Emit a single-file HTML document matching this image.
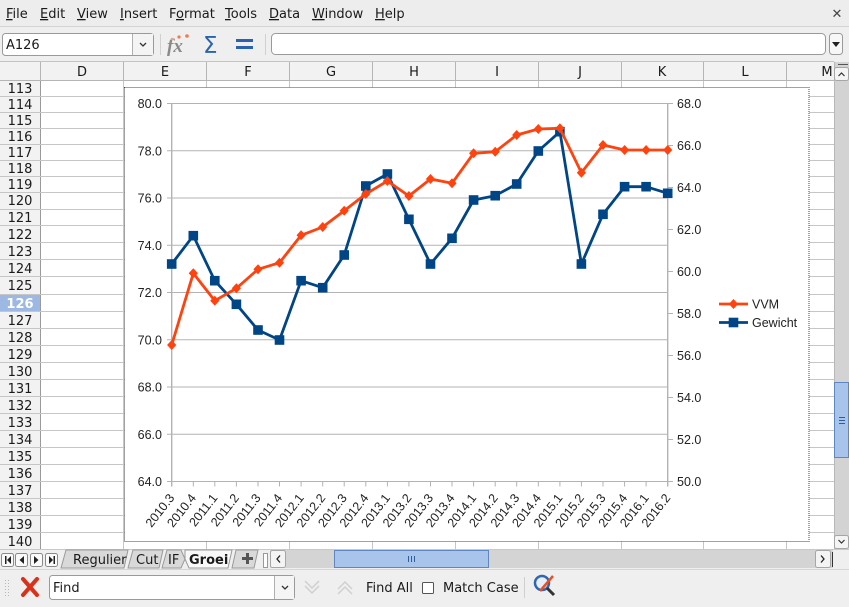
<!DOCTYPE html>
<html><head><meta charset="utf-8">
<style>
html,body{margin:0;padding:0;width:849px;height:607px;overflow:hidden;background:#efefef;}
svg{display:block;}
.ui{font-family:"DejaVu Sans","Liberation Sans",sans-serif;font-size:13px;fill:#1a1a1a;}
.ch{font-family:"Liberation Sans",sans-serif;font-size:12.5px;fill:#222;}
</style></head><body>
<svg width="849" height="607" viewBox="0 0 849 607" xmlns="http://www.w3.org/2000/svg">
<defs>
  <symbol id="dm" overflow="visible"><polygon points="0,-5 4.6,0 0,5 -4.6,0" fill="#ff420e"/></symbol>
  <symbol id="sq" overflow="visible"><rect x="-4.8" y="-4.8" width="9.6" height="9.6" fill="#004586"/></symbol>
</defs>

<!-- menu bar -->
<rect x="0" y="0" width="849" height="27" fill="#ededed"/>
<g class="ui">
  <text x="6" y="18"><tspan text-decoration="underline">F</tspan>ile</text>
  <text x="40" y="18"><tspan text-decoration="underline">E</tspan>dit</text>
  <text x="77" y="18"><tspan text-decoration="underline">V</tspan>iew</text>
  <text x="120" y="18"><tspan text-decoration="underline">I</tspan>nsert</text>
  <text x="169" y="18">F<tspan text-decoration="underline">o</tspan>rmat</text>
  <text x="225" y="18"><tspan text-decoration="underline">T</tspan>ools</text>
  <text x="269" y="18"><tspan text-decoration="underline">D</tspan>ata</text>
  <text x="312" y="18"><tspan text-decoration="underline">W</tspan>indow</text>
  <text x="375" y="18"><tspan text-decoration="underline">H</tspan>elp</text>
</g>
<text x="837" y="18" font-family="DejaVu Sans,sans-serif" font-size="13" font-weight="bold" fill="#444" text-anchor="middle">✕</text>
<line x1="0" y1="26.5" x2="849" y2="26.5" stroke="#d4d4d4"/>

<!-- toolbar -->
<rect x="0" y="27" width="849" height="34" fill="#efefef"/>
<rect x="2.5" y="33.5" width="151" height="22" rx="3" fill="#fff" stroke="#9a9a9a"/>
<rect x="133" y="34" width="20" height="21" fill="#f4f4f4"/>
<line x1="132.5" y1="34" x2="132.5" y2="55" stroke="#b0b0b0"/>
<text class="ui" x="6" y="49">A126</text>
<path d="M140,43 l3,3 l3,-3" fill="none" stroke="#333" stroke-width="1.3"/>
<line x1="160.5" y1="34" x2="160.5" y2="55" stroke="#d0d0d0"/>
<text x="167" y="52" font-family="Liberation Serif,serif" font-style="italic" font-weight="bold" font-size="19" fill="#8a8a8a">fx</text>
<circle cx="179" cy="37" r="1.6" fill="#f07a50"/><circle cx="187" cy="36" r="1.8" fill="#f07a50"/><circle cx="172" cy="39" r="1.2" fill="#f0a080"/>
<text x="203" y="53" font-family="DejaVu Sans,sans-serif" font-size="23" fill="#2a63ad">Σ</text>
<rect x="236" y="39" width="17" height="3" fill="#2a63ad"/>
<rect x="236" y="46" width="17" height="3" fill="#2a63ad"/>
<line x1="265.5" y1="34" x2="265.5" y2="55" stroke="#d0d0d0"/>
<rect x="271.5" y="33.5" width="554" height="21" rx="4" fill="#fff" stroke="#9a9a9a"/>
<rect x="829.5" y="33.5" width="13" height="21" rx="3" fill="#f7f7f7" stroke="#9a9a9a"/>
<polygon points="832,42 840,42 836,47" fill="#222"/>

<!-- column headers -->
<rect x="0" y="61.5" width="834" height="19" fill="#f2f2f2"/>
<line x1="0" y1="61.5" x2="834" y2="61.5" stroke="#c4c4c4"/>
<line x1="0" y1="80.5" x2="834" y2="80.5" stroke="#b5b5b5"/>
<g stroke="#b5b5b5">
  <line x1="40.5" y1="62" x2="40.5" y2="80"/><line x1="123.5" y1="62" x2="123.5" y2="80"/>
  <line x1="206.5" y1="62" x2="206.5" y2="80"/><line x1="289.5" y1="62" x2="289.5" y2="80"/>
  <line x1="372.5" y1="62" x2="372.5" y2="80"/><line x1="455.5" y1="62" x2="455.5" y2="80"/>
  <line x1="538.5" y1="62" x2="538.5" y2="80"/><line x1="621.5" y1="62" x2="621.5" y2="80"/>
  <line x1="703.5" y1="62" x2="703.5" y2="80"/><line x1="786.5" y1="62" x2="786.5" y2="80"/>
</g>
<g class="ui" text-anchor="middle">
  <text x="82" y="76">D</text><text x="165" y="76">E</text><text x="248" y="76">F</text>
  <text x="331" y="76">G</text><text x="414" y="76">H</text><text x="497" y="76">I</text>
  <text x="580" y="76">J</text><text x="662" y="76">K</text><text x="745" y="76">L</text>
  <text x="827" y="76">M</text>
</g>

<!-- cell area -->
<rect x="41" y="81" width="793" height="468" fill="#fff"/>
<!-- row header -->
<rect x="0" y="81" width="40" height="468" fill="#f2f2f2"/>
<rect x="0" y="294.5" width="40" height="17" fill="#9db9e3"/>
<line x1="40.5" y1="81" x2="40.5" y2="549" stroke="#9a9a9a"/>
<g stroke="#c6c6c6">
  <line x1="0" y1="96.5" x2="834" y2="96.5"/><line x1="0" y1="112.5" x2="834" y2="112.5"/>
  <line x1="0" y1="128.5" x2="834" y2="128.5"/><line x1="0" y1="144.5" x2="834" y2="144.5"/>
  <line x1="0" y1="160.5" x2="834" y2="160.5"/><line x1="0" y1="176.5" x2="834" y2="176.5"/>
  <line x1="0" y1="192.5" x2="834" y2="192.5"/><line x1="0" y1="209.5" x2="834" y2="209.5"/>
  <line x1="0" y1="225.5" x2="834" y2="225.5"/><line x1="0" y1="242.5" x2="834" y2="242.5"/>
  <line x1="0" y1="259.5" x2="834" y2="259.5"/><line x1="0" y1="276.5" x2="834" y2="276.5"/>
  <line x1="0" y1="294.5" x2="834" y2="294.5"/><line x1="0" y1="311.5" x2="834" y2="311.5"/>
  <line x1="0" y1="328.5" x2="834" y2="328.5"/><line x1="0" y1="345.5" x2="834" y2="345.5"/>
  <line x1="0" y1="362.5" x2="834" y2="362.5"/><line x1="0" y1="379.5" x2="834" y2="379.5"/>
  <line x1="0" y1="396.5" x2="834" y2="396.5"/><line x1="0" y1="413.5" x2="834" y2="413.5"/>
  <line x1="0" y1="430.5" x2="834" y2="430.5"/><line x1="0" y1="447.5" x2="834" y2="447.5"/>
  <line x1="0" y1="464.5" x2="834" y2="464.5"/><line x1="0" y1="481.5" x2="834" y2="481.5"/>
  <line x1="0" y1="498.5" x2="834" y2="498.5"/><line x1="0" y1="515.5" x2="834" y2="515.5"/>
  <line x1="0" y1="532.5" x2="834" y2="532.5"/>
  <line x1="123.5" y1="81" x2="123.5" y2="549"/><line x1="206.5" y1="81" x2="206.5" y2="549"/>
  <line x1="289.5" y1="81" x2="289.5" y2="549"/><line x1="372.5" y1="81" x2="372.5" y2="549"/>
  <line x1="455.5" y1="81" x2="455.5" y2="549"/><line x1="538.5" y1="81" x2="538.5" y2="549"/>
  <line x1="621.5" y1="81" x2="621.5" y2="549"/><line x1="703.5" y1="81" x2="703.5" y2="549"/>
  <line x1="786.5" y1="81" x2="786.5" y2="549"/>
</g>
<g class="ui" text-anchor="middle">
  <text x="20" y="93">113</text><text x="20" y="109">114</text><text x="20" y="125">115</text>
  <text x="20" y="141">116</text><text x="20" y="157">117</text><text x="20" y="173">118</text>
  <text x="20" y="189">119</text><text x="20" y="205">120</text><text x="20" y="222">121</text>
  <text x="20" y="239">122</text><text x="20" y="256">123</text><text x="20" y="273">124</text>
  <text x="20" y="290">125</text>
  <text x="20" y="308" fill="#fff" font-weight="bold">126</text>
  <text x="20" y="325">127</text><text x="20" y="342">128</text><text x="20" y="359">129</text>
  <text x="20" y="376">130</text><text x="20" y="393">131</text><text x="20" y="410">132</text>
  <text x="20" y="427">133</text><text x="20" y="444">134</text><text x="20" y="461">135</text>
  <text x="20" y="478">136</text><text x="20" y="495">137</text><text x="20" y="512">138</text>
  <text x="20" y="529">139</text><text x="20" y="546">140</text>
</g>

<!-- chart -->
<rect x="124.5" y="87.5" width="684.5" height="454" fill="#fff" stroke="#444" stroke-dasharray="1,1"/>
<g stroke="#b3b3b3" stroke-width="1">
  <line x1="167" y1="103.5" x2="668" y2="103.5"/><line x1="167" y1="150.75" x2="668" y2="150.75"/>
  <line x1="167" y1="198" x2="668" y2="198"/><line x1="167" y1="245.25" x2="668" y2="245.25"/>
  <line x1="167" y1="292.5" x2="668" y2="292.5"/><line x1="167" y1="339.75" x2="668" y2="339.75"/>
  <line x1="167" y1="387" x2="668" y2="387"/><line x1="167" y1="434.25" x2="668" y2="434.25"/>
  <line x1="167" y1="481.5" x2="668" y2="481.5"/>
  <line x1="171.7" y1="103.5" x2="171.7" y2="486.5" stroke-width="1.4"/>
  <line x1="667.7" y1="103.5" x2="667.7" y2="486.5" stroke-width="1.4"/>
  <line x1="668" y1="103.5" x2="673" y2="103.5"/><line x1="668" y1="145.5" x2="673" y2="145.5"/>
  <line x1="668" y1="187.5" x2="673" y2="187.5"/><line x1="668" y1="229.5" x2="673" y2="229.5"/>
  <line x1="668" y1="271.5" x2="673" y2="271.5"/><line x1="668" y1="313.5" x2="673" y2="313.5"/>
  <line x1="668" y1="355.5" x2="673" y2="355.5"/><line x1="668" y1="397.5" x2="673" y2="397.5"/>
  <line x1="668" y1="439.5" x2="673" y2="439.5"/><line x1="668" y1="481.5" x2="673" y2="481.5"/>
  <line x1="193.3" y1="481.5" x2="193.3" y2="486.5"/><line x1="214.8" y1="481.5" x2="214.8" y2="486.5"/>
  <line x1="236.4" y1="481.5" x2="236.4" y2="486.5"/><line x1="258" y1="481.5" x2="258" y2="486.5"/>
  <line x1="279.5" y1="481.5" x2="279.5" y2="486.5"/><line x1="301.1" y1="481.5" x2="301.1" y2="486.5"/>
  <line x1="322.7" y1="481.5" x2="322.7" y2="486.5"/><line x1="344.2" y1="481.5" x2="344.2" y2="486.5"/>
  <line x1="365.8" y1="481.5" x2="365.8" y2="486.5"/><line x1="387.4" y1="481.5" x2="387.4" y2="486.5"/>
  <line x1="408.9" y1="481.5" x2="408.9" y2="486.5"/><line x1="430.5" y1="481.5" x2="430.5" y2="486.5"/>
  <line x1="452" y1="481.5" x2="452" y2="486.5"/><line x1="473.6" y1="481.5" x2="473.6" y2="486.5"/>
  <line x1="495.2" y1="481.5" x2="495.2" y2="486.5"/><line x1="516.7" y1="481.5" x2="516.7" y2="486.5"/>
  <line x1="538.3" y1="481.5" x2="538.3" y2="486.5"/><line x1="559.9" y1="481.5" x2="559.9" y2="486.5"/>
  <line x1="581.4" y1="481.5" x2="581.4" y2="486.5"/><line x1="603" y1="481.5" x2="603" y2="486.5"/>
  <line x1="624.6" y1="481.5" x2="624.6" y2="486.5"/><line x1="646.1" y1="481.5" x2="646.1" y2="486.5"/>
</g>
<g class="ch" text-anchor="end">
  <text x="162" y="108">80.0</text><text x="162" y="155.3">78.0</text><text x="162" y="202.5">76.0</text>
  <text x="162" y="249.8">74.0</text><text x="162" y="297">72.0</text><text x="162" y="344.3">70.0</text>
  <text x="162" y="391.5">68.0</text><text x="162" y="438.8">66.0</text><text x="162" y="486">64.0</text>
</g>
<g class="ch">
  <text x="677" y="108">68.0</text><text x="677" y="150">66.0</text><text x="677" y="192">64.0</text>
  <text x="677" y="234">62.0</text><text x="677" y="276">60.0</text><text x="677" y="318">58.0</text>
  <text x="677" y="360">56.0</text><text x="677" y="402">54.0</text><text x="677" y="444">52.0</text>
  <text x="677" y="486">50.0</text>
</g>
<g class="ch" text-anchor="end" font-size="12">
  <text transform="translate(175,498) rotate(-52)">2010.3</text>
  <text transform="translate(196.6,498) rotate(-52)">2010.4</text>
  <text transform="translate(218.1,498) rotate(-52)">2011.1</text>
  <text transform="translate(239.7,498) rotate(-52)">2011.2</text>
  <text transform="translate(261.3,498) rotate(-52)">2011.3</text>
  <text transform="translate(282.8,498) rotate(-52)">2011.4</text>
  <text transform="translate(304.4,498) rotate(-52)">2012.1</text>
  <text transform="translate(326,498) rotate(-52)">2012.2</text>
  <text transform="translate(347.5,498) rotate(-52)">2012.3</text>
  <text transform="translate(369.1,498) rotate(-52)">2012.4</text>
  <text transform="translate(390.7,498) rotate(-52)">2013.1</text>
  <text transform="translate(412.2,498) rotate(-52)">2013.2</text>
  <text transform="translate(433.8,498) rotate(-52)">2013.3</text>
  <text transform="translate(455.3,498) rotate(-52)">2013.4</text>
  <text transform="translate(476.9,498) rotate(-52)">2014.1</text>
  <text transform="translate(498.5,498) rotate(-52)">2014.2</text>
  <text transform="translate(520,498) rotate(-52)">2014.3</text>
  <text transform="translate(541.6,498) rotate(-52)">2014.4</text>
  <text transform="translate(563.2,498) rotate(-52)">2015.1</text>
  <text transform="translate(584.7,498) rotate(-52)">2015.2</text>
  <text transform="translate(606.3,498) rotate(-52)">2015.3</text>
  <text transform="translate(627.9,498) rotate(-52)">2015.4</text>
  <text transform="translate(649.4,498) rotate(-52)">2016.1</text>
  <text transform="translate(671,498) rotate(-52)">2016.2</text>
</g>

<!-- Gewicht series -->
<polyline fill="none" stroke="#004586" stroke-width="2.8" stroke-linejoin="round" points="171.7,264 193.3,235.7 214.8,280.7 236.4,304.3 258,330 279.5,340 301.1,280.7 322.7,287.7 344.2,255 365.8,186 387.4,174 408.9,219.3 430.5,264 452,238.3 473.6,200 495.2,195.7 516.7,184 538.3,151 559.9,131.7 581.4,264 603,214.3 624.6,186.7 646.1,186.7 667.7,193.3"/>
<g>
  <use href="#sq" x="171.7" y="264"/><use href="#sq" x="193.3" y="235.7"/><use href="#sq" x="214.8" y="280.7"/>
  <use href="#sq" x="236.4" y="304.3"/><use href="#sq" x="258" y="330"/><use href="#sq" x="279.5" y="340"/>
  <use href="#sq" x="301.1" y="280.7"/><use href="#sq" x="322.7" y="287.7"/><use href="#sq" x="344.2" y="255"/>
  <use href="#sq" x="365.8" y="186"/><use href="#sq" x="387.4" y="174"/><use href="#sq" x="408.9" y="219.3"/>
  <use href="#sq" x="430.5" y="264"/><use href="#sq" x="452" y="238.3"/><use href="#sq" x="473.6" y="200"/>
  <use href="#sq" x="495.2" y="195.7"/><use href="#sq" x="516.7" y="184"/><use href="#sq" x="538.3" y="151"/>
  <use href="#sq" x="559.9" y="131.7"/><use href="#sq" x="581.4" y="264"/><use href="#sq" x="603" y="214.3"/>
  <use href="#sq" x="624.6" y="186.7"/><use href="#sq" x="646.1" y="186.7"/><use href="#sq" x="667.7" y="193.3"/>
</g>
<!-- VVM series -->
<polyline fill="none" stroke="#ff420e" stroke-width="2.8" stroke-linejoin="round" points="171.7,345 193.3,273.3 214.8,300.7 236.4,288.3 258,269.3 279.5,262.7 301.1,235.3 322.7,227 344.2,210.7 365.8,194 387.4,181 408.9,196 430.5,179 452,183.3 473.6,153.3 495.2,151.7 516.7,135 538.3,129 559.9,128.3 581.4,172.7 603,145 624.6,150 646.1,150 667.7,150"/>
<g>
  <use href="#dm" x="171.7" y="345"/><use href="#dm" x="193.3" y="273.3"/><use href="#dm" x="214.8" y="300.7"/>
  <use href="#dm" x="236.4" y="288.3"/><use href="#dm" x="258" y="269.3"/><use href="#dm" x="279.5" y="262.7"/>
  <use href="#dm" x="301.1" y="235.3"/><use href="#dm" x="322.7" y="227"/><use href="#dm" x="344.2" y="210.7"/>
  <use href="#dm" x="365.8" y="194"/><use href="#dm" x="387.4" y="181"/><use href="#dm" x="408.9" y="196"/>
  <use href="#dm" x="430.5" y="179"/><use href="#dm" x="452" y="183.3"/><use href="#dm" x="473.6" y="153.3"/>
  <use href="#dm" x="495.2" y="151.7"/><use href="#dm" x="516.7" y="135"/><use href="#dm" x="538.3" y="129"/>
  <use href="#dm" x="559.9" y="128.3"/><use href="#dm" x="581.4" y="172.7"/><use href="#dm" x="603" y="145"/>
  <use href="#dm" x="624.6" y="150"/><use href="#dm" x="646.1" y="150"/><use href="#dm" x="667.7" y="150"/>
</g>

<!-- legend -->
<line x1="719" y1="304" x2="748" y2="304" stroke="#ff420e" stroke-width="2.8"/>
<use href="#dm" x="733.5" y="304"/>
<line x1="719" y1="322.5" x2="748" y2="322.5" stroke="#004586" stroke-width="2.8"/>
<use href="#sq" x="733.5" y="322.5"/>
<text class="ch" x="752" y="308.5">VVM</text>
<text class="ch" x="752" y="327">Gewicht</text>

<!-- vertical scrollbar -->
<rect x="834" y="62" width="15" height="487" fill="#d3d3d3"/>
<line x1="834.5" y1="62" x2="834.5" y2="549" stroke="#b8b8b8"/>
<line x1="838" y1="64.5" x2="848" y2="64.5" stroke="#555"/>
<rect x="834.5" y="67.5" width="14" height="13" rx="2" fill="#f4f4f4" stroke="#a6a6a6"/>
<path d="M838.5,76 l3,-3 l3,3" fill="none" stroke="#333" stroke-width="1.2"/>
<rect x="834.5" y="382.5" width="14" height="75" fill="#a9c4ea" stroke="#5d86c3"/>
<g stroke="#2e5d9e"><line x1="839" y1="417.5" x2="845" y2="417.5"/><line x1="839" y1="420.5" x2="845" y2="420.5"/><line x1="839" y1="423.5" x2="845" y2="423.5"/></g>
<rect x="834.5" y="535.5" width="14" height="13" rx="2" fill="#f4f4f4" stroke="#a6a6a6"/>
<path d="M838.5,540 l3,3 l3,-3" fill="none" stroke="#333" stroke-width="1.2"/>

<!-- tab bar -->
<rect x="0" y="549" width="849" height="20" fill="#efefef"/>
<line x1="0" y1="549.5" x2="849" y2="549.5" stroke="#c8c8c8"/>
<g fill="#fafafa" stroke="#8a8a8a">
  <rect x="1.5" y="553.5" width="12" height="13" rx="2"/><rect x="15.5" y="553.5" width="12" height="13" rx="2"/>
  <rect x="30.5" y="553.5" width="12" height="13" rx="2"/><rect x="45.5" y="553.5" width="12" height="13" rx="2"/>
</g>
<g fill="#222">
  <rect x="5" y="556" width="1.5" height="8"/><polygon points="11,556 11,564 7,560"/>
  <polygon points="24,556 24,564 19.5,560"/>
  <polygon points="34,556 34,564 38.5,560"/>
  <polygon points="49,556 49,564 53,560"/><rect x="53.5" y="556" width="1.5" height="8"/>
</g>
<polygon points="66,550 128,550 124,568 61,568" fill="#d9d9d9" stroke="#9a9a9a"/>
<polygon points="133,550 163,550 159,568 128,568" fill="#d9d9d9" stroke="#9a9a9a"/>
<polygon points="167,550 181,550 185,559 181,568 162,568" fill="#d9d9d9" stroke="#9a9a9a"/>
<polygon points="185,550 232,550 228,568 189,568 185,559" fill="#f8f8f8" stroke="#9a9a9a"/>
<polygon points="236,550 258,550 254,568 232,568" fill="#d9d9d9" stroke="#9a9a9a"/>
<g class="ui" font-size="13">
  <text x="73" y="564">Regulier</text>
  <text x="136" y="564">Cut</text>
  <text x="168" y="564">IF</text>
  <text x="189" y="564" font-weight="bold">Groei</text>
</g>
<rect x="242" y="557" width="11" height="3" fill="#555"/><rect x="246" y="553" width="3" height="11" fill="#555"/>
<rect x="263.5" y="553.5" width="4" height="14" fill="#fff" stroke="#999"/>
<rect x="270" y="550" width="563" height="18" fill="#d4d4d4"/>
<rect x="270.5" y="550.5" width="15" height="17" rx="2" fill="#f4f4f4" stroke="#a6a6a6"/>
<path d="M280,555.5 l-3,3.5 l3,3.5" fill="none" stroke="#222" stroke-width="1.3"/>
<rect x="334.5" y="550.5" width="154" height="17" fill="#a9c4ea" stroke="#5d86c3"/>
<g stroke="#2e5d9e"><line x1="408.5" y1="556" x2="408.5" y2="562"/><line x1="411.5" y1="556" x2="411.5" y2="562"/><line x1="414.5" y1="556" x2="414.5" y2="562"/></g>
<rect x="815.5" y="550.5" width="15" height="17" rx="2" fill="#f4f4f4" stroke="#a6a6a6"/>
<path d="M821,555.5 l3,3.5 l-3,3.5" fill="none" stroke="#222" stroke-width="1.3"/>
<line x1="832.5" y1="552" x2="832.5" y2="567" stroke="#333"/>

<!-- find bar -->
<rect x="0" y="569" width="849" height="38" fill="#efefef"/>
<line x1="0" y1="569.5" x2="849" y2="569.5" stroke="#d6d6d6"/>
<g fill="#b8b8b8">
  <rect x="5" y="580" width="1" height="1"/><rect x="5" y="583" width="1" height="1"/><rect x="5" y="586" width="1" height="1"/>
  <rect x="5" y="589" width="1" height="1"/><rect x="5" y="592" width="1" height="1"/><rect x="5" y="595" width="1" height="1"/>
  <rect x="8" y="580" width="1" height="1"/><rect x="8" y="583" width="1" height="1"/><rect x="8" y="586" width="1" height="1"/>
  <rect x="8" y="589" width="1" height="1"/><rect x="8" y="592" width="1" height="1"/><rect x="8" y="595" width="1" height="1"/>
</g>
<path d="M23,579 L37,595 M37,579 L23,595" stroke="#d8331a" stroke-width="4" stroke-linecap="round"/>
<rect x="49.5" y="575.5" width="245" height="24" rx="3" fill="#fff" stroke="#9a9a9a"/>
<rect x="275" y="576" width="19" height="23" fill="#f5f5f5"/>
<line x1="274.5" y1="576" x2="274.5" y2="599" stroke="#b0b0b0"/>
<path d="M282,586 l3,3 l3,-3" fill="none" stroke="#333" stroke-width="1.3"/>
<text class="ui" x="53" y="592" fill="#8a8a8a">Find</text>
<path d="M305,581 l7,7 l7,-7 M305,586 l7,7 l7,-7" fill="none" stroke="#d0d0d0" stroke-width="1.5"/>
<path d="M338,594 l7,-7 l7,7 M338,589 l7,-7 l7,7" fill="none" stroke="#d0d0d0" stroke-width="1.5"/>
<text class="ui" x="366" y="592">Find All</text>
<rect x="422.5" y="582.5" width="11" height="11" rx="1" fill="#fff" stroke="#555"/>
<text class="ui" x="443" y="592">Match Case</text>
<line x1="524.5" y1="577" x2="524.5" y2="598" stroke="#cfcfcf"/>
<circle cx="542" cy="583" r="7" fill="#e6eef8" stroke="#2e66b0" stroke-width="2.5"/>
<line x1="547" y1="588" x2="554" y2="595" stroke="#333" stroke-width="3"/>
<line x1="540" y1="591" x2="553" y2="576" stroke="#e85020" stroke-width="2.5"/>
</svg>
</body></html>
